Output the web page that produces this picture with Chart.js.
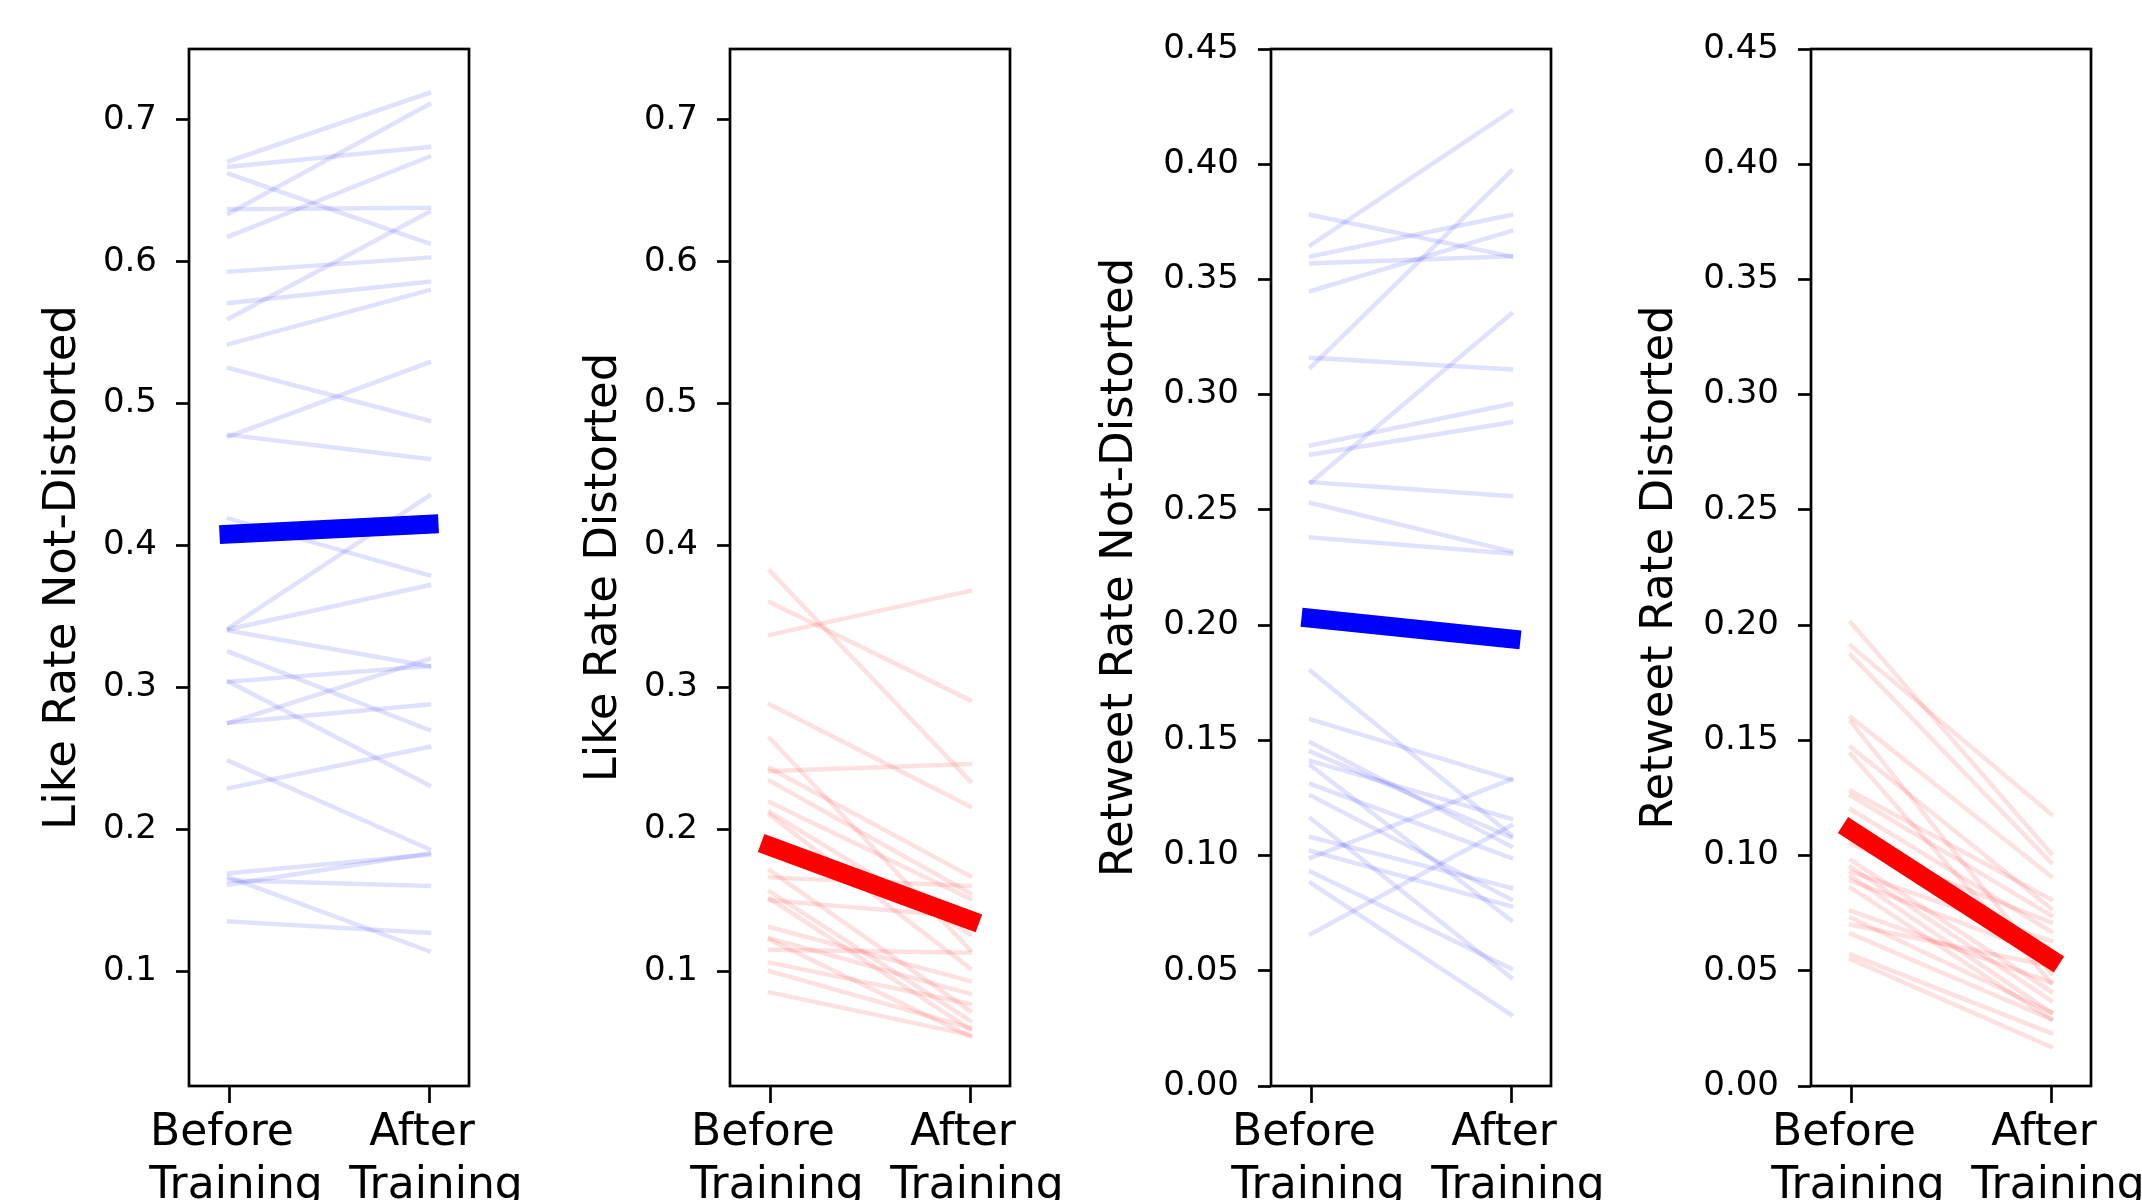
<!DOCTYPE html>
<html>
<head>
<meta charset="utf-8">
<script src="https://cdn.jsdelivr.net/npm/chart.js@4.4.1/dist/chart.umd.min.js"></script>
<style>
  html, body { margin: 0; padding: 0; background: #fff; }
  #wrap { position: relative; width: 2142px; height: 1200px; overflow: hidden; }
  .panel { position: absolute; top: 0; height: 1200px; }
</style>
</head>
<body>
<div id="wrap">
  <div class="panel" style="left:0px;width:541px"><canvas id="c0"></canvas></div>
  <div class="panel" style="left:541px;width:541px"><canvas id="c1"></canvas></div>
  <div class="panel" style="left:1082px;width:540px"><canvas id="c2"></canvas></div>
  <div class="panel" style="left:1622px;width:520px"><canvas id="c3"></canvas></div>
</div>
<script>
'use strict';

/* ---------- data ---------- */
const xTickLabels = [['Before ', ' Training'], ['After ', ' Training']];
const yTitles = ['Like Rate Not-Distorted', 'Like Rate Distorted',
                 'Retweet Rate Not-Distorted', 'Retweet Rate Distorted'];

const likeTicks = [0.1, 0.2, 0.3, 0.4, 0.5, 0.6, 0.7];
const retweetTicks = [0, 0.05, 0.1, 0.15, 0.2, 0.25, 0.3, 0.35, 0.4, 0.45];
const likeRange = [0.019, 0.75];
const retweetRange = [0, 0.45];

// like rate, not distorted (per user: before / after)
const likeNDBefore = [0.671, 0.667, 0.662, 0.634, 0.637, 0.618, 0.593, 0.571, 0.560, 0.542,
                      0.525, 0.477, 0.478, 0.419, 0.342, 0.341, 0.340, 0.325, 0.304, 0.304,
                      0.275, 0.275, 0.248, 0.229, 0.169, 0.161, 0.164, 0.166, 0.135];
const likeNDAfter  = [0.719, 0.681, 0.613, 0.711, 0.638, 0.674, 0.603, 0.586, 0.635, 0.580,
                      0.488, 0.529, 0.461, 0.379, 0.435, 0.372, 0.315, 0.270, 0.315, 0.231,
                      0.320, 0.288, 0.186, 0.258, 0.182, 0.183, 0.160, 0.114, 0.127];
const likeNDMean   = [0.408, 0.415];

// like rate, distorted
const likeDBefore = [0.382, 0.360, 0.337, 0.288, 0.264, 0.241, 0.243, 0.234, 0.219, 0.212,
                     0.210, 0.171, 0.166, 0.156, 0.150, 0.151, 0.131, 0.123, 0.122, 0.115,
                     0.106, 0.100, 0.085];
const likeDAfter  = [0.234, 0.291, 0.368, 0.216, 0.115, 0.246, 0.167, 0.155, 0.151, 0.126,
                     0.102, 0.072, 0.160, 0.065, 0.138, 0.059, 0.093, 0.084, 0.054, 0.113,
                     0.077, 0.060, 0.055];
const likeDMean   = [0.188, 0.136];

// retweet rate, not distorted
const rtNDBefore = [0.378, 0.365, 0.360, 0.357, 0.345, 0.312, 0.316, 0.262, 0.278, 0.274,
                    0.262, 0.253, 0.238, 0.180, 0.159, 0.149, 0.145, 0.141, 0.139, 0.131,
                    0.126, 0.116, 0.108, 0.102, 0.099, 0.093, 0.088, 0.066];
const rtNDAfter  = [0.360, 0.423, 0.378, 0.360, 0.371, 0.397, 0.311, 0.335, 0.296, 0.288,
                    0.256, 0.232, 0.231, 0.109, 0.133, 0.104, 0.108, 0.116, 0.072, 0.099,
                    0.081, 0.047, 0.086, 0.078, 0.133, 0.051, 0.031, 0.113];
const rtNDMean   = [0.203, 0.194];

// retweet rate, distorted
const rtDBefore = [0.201, 0.191, 0.187, 0.160, 0.158, 0.147, 0.144, 0.128, 0.126, 0.120,
                   0.105, 0.098, 0.095, 0.093, 0.091, 0.089, 0.086, 0.076, 0.073, 0.070,
                   0.066, 0.057, 0.055];
const rtDAfter  = [0.101, 0.118, 0.097, 0.091, 0.049, 0.077, 0.045, 0.081, 0.074, 0.067,
                   0.071, 0.041, 0.037, 0.063, 0.032, 0.056, 0.029, 0.045, 0.032, 0.052,
                   0.029, 0.023, 0.017];
const rtDMean   = [0.111, 0.055];

/* ---------- styling ---------- */
const FONT = "'DejaVu Sans', sans-serif";
const BLUE = { thin: 'rgba(0,0,255,0.12)', mean: 'rgb(0,0,255)' };
const RED = { thin: 'rgba(255,0,0,0.12)', mean: 'rgb(255,0,0)' };
const AXIS_W = 189, XAXIS_H = 114, PLOT_W = 280;

const panels = [
  { id: 'c0', title: yTitles[0], before: likeNDBefore, after: likeNDAfter, mean: likeNDMean,
    col: BLUE, range: likeRange, ticks: likeTicks, digits: 1, titlePad: 39 },
  { id: 'c1', title: yTitles[1], before: likeDBefore, after: likeDAfter, mean: likeDMean,
    col: RED, range: likeRange, ticks: likeTicks, digits: 1, titlePad: 39 },
  { id: 'c2', title: yTitles[2], before: rtNDBefore, after: rtNDAfter, mean: rtNDMean,
    col: BLUE, range: retweetRange, ticks: retweetTicks, digits: 2, titlePad: 14 },
  { id: 'c3', title: yTitles[3], before: rtDBefore, after: rtDAfter, mean: rtDMean,
    col: RED, range: retweetRange, ticks: retweetTicks, digits: 2, titlePad: 14 },
];

// box around the plot area (matplotlib spines)
const frame = {
  id: 'frame',
  afterDraw(chart) {
    const a = chart.chartArea, ctx = chart.ctx;
    ctx.save();
    ctx.strokeStyle = '#000';
    ctx.lineWidth = 2.7;
    ctx.strokeRect(a.left, a.top, a.right - a.left, a.bottom - a.top);
    ctx.restore();
  }
};

function makeChart(p) {
  const wrapW = document.getElementById(p.id).parentNode.clientWidth;

  const datasets = [{
    data: [{ x: 0, y: p.mean[0] }, { x: 1, y: p.mean[1] }],
    borderColor: p.col.mean, borderWidth: 19, borderCapStyle: 'square',
    pointRadius: 0,
  }];
  p.before.forEach((b, i) => {
    datasets.push({
      data: [{ x: 0, y: b }, { x: 1, y: p.after[i] }],
      borderColor: p.col.thin, borderWidth: 4.5, borderCapStyle: 'square',
      pointRadius: 0,
    });
  });

  return new Chart(document.getElementById(p.id), {
    type: 'line',
    data: { datasets },
    options: {
      responsive: true,
      maintainAspectRatio: false,
      animation: false,
      events: [],
      layout: { padding: { top: 49, right: wrapW - AXIS_W - PLOT_W, left: 0, bottom: 0 } },
      plugins: { legend: { display: false }, tooltip: { enabled: false } },
      scales: {
        x: {
          type: 'linear', min: -0.2, max: 1.2,
          afterBuildTicks: s => { s.ticks = [{ value: 0 }, { value: 1 }]; },
          afterFit: s => {
            s.height = XAXIS_H;
            s.paddingLeft = 0; s.paddingRight = 0;
          },
          border: { display: false },
          grid: { drawOnChartArea: false, drawTicks: true, tickLength: 17, tickWidth: 2.7, tickColor: '#000' },
          ticks: {
            padding: 4, color: '#000', maxRotation: 0, autoSkip: false,
            font: { family: FONT, size: 44, lineHeight: 1.2 },
            callback: v => xTickLabels[v],
          },
        },
        y: {
          min: p.range[0], max: p.range[1],
          afterBuildTicks: s => { s.ticks = p.ticks.map(v => ({ value: v })); },
          afterFit: s => { s.width = AXIS_W; },
          border: { display: false },
          grid: { drawOnChartArea: false, drawTicks: true, tickLength: 13, tickWidth: 2.7, tickColor: '#000' },
          ticks: {
            padding: 19, color: '#000',
            font: { family: FONT, size: 34 },
            callback: v => v.toFixed(p.digits),
          },
          title: {
            display: true, text: p.title, color: '#000',
            font: { family: FONT, size: 45, lineHeight: 1.1 },
            padding: { top: p.titlePad, bottom: 0 },
          },
        },
      },
    },
    plugins: [frame],
  });
}

panels.forEach(makeChart);
</script>
</body>
</html>
